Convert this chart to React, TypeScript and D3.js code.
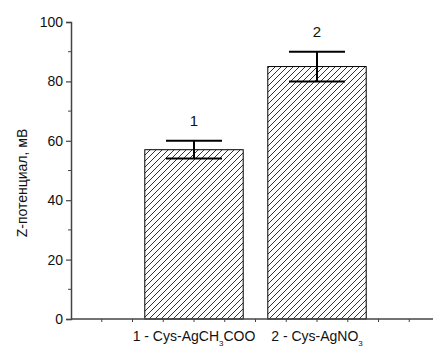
import React, { useEffect, useRef } from "react";
import * as d3 from "d3";

const categories = [1, 2];
const barLabels = ["1", "2"];
const values = [57, 85];
const errors = [3, 5];
const yTicks = [0, 20, 40, 60, 80, 100];
const xLabels = [
  { pre: "1 - Cys-AgCH", sub: "3", post: "COO" },
  { pre: "2 - Cys-AgNO", sub: "3", post: "" },
];

const W = 433;
const H = 347;

const App = () => {
  const ref = useRef<SVGSVGElement>(null);

  useEffect(() => {
    const svg = d3.select(ref.current);
    svg.selectAll("*").remove();

    const x = d3.scaleLinear().domain([0, 3]).range([71, 440]);
    const y = d3.scaleLinear().domain([0, 100]).range([319, 22]);
    const font = "'Liberation Sans', Arial, sans-serif";
    const axisColor = "#444";

    // hatch pattern
    const defs = svg.append("defs");
    const pat = defs
      .append("pattern")
      .attr("id", "hatch")
      .attr("patternUnits", "userSpaceOnUse")
      .attr("width", 6)
      .attr("height", 6);
    pat.append("rect").attr("width", 6).attr("height", 6).attr("fill", "white");
    pat
      .append("path")
      .attr("d", "M-1,7 L7,-1 M-1,1 L1,-1 M5,7 L7,5")
      .attr("stroke", "black")
      .attr("stroke-width", 0.8);

    const bw = 0.8;

    // bars
    svg
      .selectAll(".bar")
      .data(categories)
      .enter()
      .append("rect")
      .attr("x", (d) => x(d - bw / 2))
      .attr("y", (d, i) => y(values[i]))
      .attr("width", x(bw) - x(0))
      .attr("height", (d, i) => y(0) - y(values[i]))
      .attr("fill", "url(#hatch)")
      .attr("stroke", "black")
      .attr("stroke-width", 1);

    // error bars
    const capHalf = 28;
    const eg = svg.append("g").attr("stroke", "black").attr("stroke-width", 2);
    categories.forEach((c, i) => {
      const cx = x(c);
      const top = y(values[i] + errors[i]);
      const bot = y(values[i] - errors[i]);
      eg.append("line").attr("x1", cx).attr("x2", cx).attr("y1", top).attr("y2", bot);
      eg.append("line").attr("x1", cx - capHalf).attr("x2", cx + capHalf).attr("y1", top).attr("y2", top);
      eg.append("line").attr("x1", cx - capHalf).attr("x2", cx + capHalf).attr("y1", bot).attr("y2", bot);
    });

    // numbers above bars
    svg
      .selectAll(".num")
      .data(categories)
      .enter()
      .append("text")
      .attr("x", (d) => x(d))
      .attr("y", (d, i) => y(values[i] + errors[i]) - 15)
      .attr("text-anchor", "middle")
      .attr("font-family", font)
      .attr("font-size", 15)
      .attr("fill", "#111")
      .text((d, i) => barLabels[i]);

    // y axis
    const yAxis = d3
      .axisLeft(y)
      .tickValues(yTicks)
      .tickSize(5)
      .tickPadding(3)
      .tickFormat(d3.format("d"));
    const ya = svg.append("g").attr("transform", `translate(${x(0)},0)`).call(yAxis);
    ya.select(".domain").attr("stroke", axisColor).attr("stroke-width", 1.5);
    ya.selectAll(".tick line").attr("stroke", axisColor).attr("stroke-width", 1.2);
    ya.selectAll(".tick text")
      .attr("font-family", font)
      .attr("font-size", 14)
      .attr("fill", "#111");
    // minor y ticks
    ya.selectAll(".minor")
      .data(d3.range(10, 100, 20))
      .enter()
      .append("line")
      .attr("x1", 0)
      .attr("x2", -3)
      .attr("y1", (d) => y(d))
      .attr("y2", (d) => y(d))
      .attr("stroke", axisColor)
      .attr("stroke-width", 1);

    // x axis
    svg
      .append("line")
      .attr("x1", x(0))
      .attr("x2", W)
      .attr("y1", y(0))
      .attr("y2", y(0))
      .attr("stroke", axisColor)
      .attr("stroke-width", 1.5);
    svg
      .selectAll(".xtick")
      .data(d3.range(0.25, 3, 0.25))
      .enter()
      .append("line")
      .attr("x1", (d) => x(d))
      .attr("x2", (d) => x(d))
      .attr("y1", y(0))
      .attr("y2", y(0) + 3)
      .attr("stroke", axisColor)
      .attr("stroke-width", 1);

    // x labels
    categories.forEach((c, i) => {
      const t = svg
        .append("text")
        .attr("x", x(c))
        .attr("y", 341)
        .attr("text-anchor", "middle")
        .attr("font-family", font)
        .attr("font-size", 14)
        .attr("fill", "#111");
      t.append("tspan").text(xLabels[i].pre);
      t.append("tspan").attr("font-size", 8).attr("dy", 5).text(xLabels[i].sub);
      t.append("tspan").attr("dy", -5).text(xLabels[i].post);
    });

    // y title
    svg
      .append("text")
      .attr("transform", `translate(27,${183}) rotate(-90)`)
      .attr("text-anchor", "middle")
      .attr("font-family", font)
      .attr("font-size", 14)
      .attr("fill", "#111")
      .text("Z-потенциал, мВ");
  }, []);

  return (
    <svg
      ref={ref}
      width={W}
      height={H}
      style={{ position: "absolute", left: 0, top: 0, background: "white" }}
    />
  );
};

export default App;
